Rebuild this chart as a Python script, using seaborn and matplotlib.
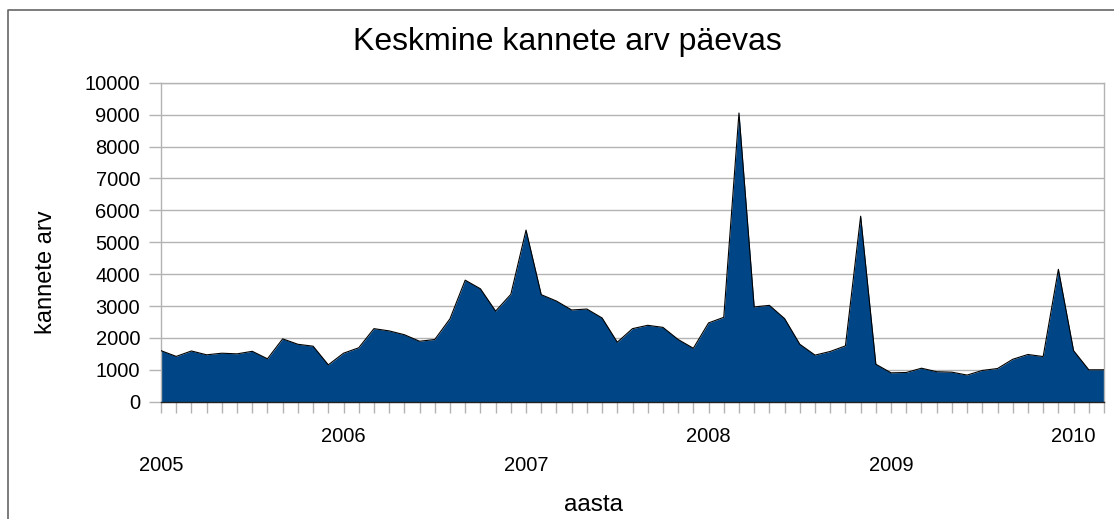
import matplotlib
matplotlib.use("Agg")
import matplotlib.pyplot as plt
import matplotlib.transforms as mtransforms
from matplotlib.lines import Line2D
import seaborn as sns
import pandas as pd

# monthly average entries per day, Jan 2005 .. Mar 2010
kanded = [1600, 1420, 1590, 1470, 1520, 1500, 1580, 1345, 1970, 1800, 1740, 1155,
          1520, 1690, 2290, 2220, 2100, 1895, 1950, 2600, 3810, 3540, 2840, 3365,
          5380, 3355, 3155, 2875, 2905, 2625, 1865, 2290, 2395, 2330, 1950, 1675,
          2470, 2645, 9050, 2970, 3020, 2605, 1800, 1460, 1575, 1750, 5815, 1175,
          905, 915, 1050, 940, 925, 835, 980, 1040, 1330, 1480, 1415, 4150,
          1600, 1000, 1000]
aastad = ["2005", "2006", "2007", "2008", "2009", "2010"]
kuud = list(range(len(kanded)))
yticks = list(range(0, 10001, 1000))

df = pd.DataFrame({"kuu": kuud, "kanded": kanded})

sns.set_style("white")
plt.rcParams["font.family"] = ["Liberation Sans", "DejaVu Sans"]
plt.rcParams["text.color"] = "black"
plt.rcParams["xtick.labelcolor"] = "black"
plt.rcParams["ytick.labelcolor"] = "black"

W, H = 1114, 519
fig = plt.figure(figsize=(W / 100, H / 100), dpi=100)
ax = fig.add_axes([161 / W, 1 - 401.7 / H, (1104 - 161) / W, (401.7 - 82.7) / H])

grey = "#b3b3b3"
ax.set_axisbelow(True)
ax.yaxis.grid(True, color=grey, linewidth=1)
ax.fill_between(df["kuu"], df["kanded"], color="#004586", linewidth=0, zorder=2)
sns.lineplot(data=df, x="kuu", y="kanded", color="black", linewidth=0.8, ax=ax, zorder=3)

ax.set_xlim(0, len(kanded) - 1)
ax.set_ylim(0, 10000)
ax.set_yticks(yticks)
ax.set_yticklabels([str(v) for v in yticks])

labels = [""] * len(kanded)
for i, a in enumerate(aastad):
    labels[i * 12] = a
ax.set_xticks(kuud)
ax.set_xticklabels(labels)
ax.set_xlabel("")
ax.set_ylabel("")

ax.tick_params(axis="y", length=8.6, width=1, color=grey, pad=6.5, labelsize=14.5,
               labelcolor="black", left=True)
ax.tick_params(axis="x", length=8, width=1, color=grey, pad=10, labelsize=14.5,
               labelcolor="black", bottom=True)

# staggered year labels: 2005, 2007, 2009 on the lower row
shift = mtransforms.ScaledTranslation(0, -20.9 / 72, fig.dpi_scale_trans)
for i, lbl in enumerate(ax.get_xticklabels()):
    if i % 24 == 0:
        lbl.set_transform(lbl.get_transform() + shift)

for side in ["left", "right", "top"]:
    ax.spines[side].set_visible(True)
    ax.spines[side].set_color(grey)
    ax.spines[side].set_linewidth(1)
ax.spines["bottom"].set_color("#222222")
ax.spines["bottom"].set_linewidth(1)

fig.text(567 / W, 1 - 50 / H, "Keskmine kannete arv päevas", ha="center", va="baseline",
         fontsize=23, color="black")
fig.text(46 / W, 1 - 272 / H, "kannete arv", rotation=90, ha="center", va="center",
         fontsize=17, color="black")
fig.text(593 / W, 1 - 505 / H, "aasta", ha="center", va="center", fontsize=17.5, color="black")

# outer frame of the original chart (left and top edges visible)
fig.add_artist(Line2D([7.5 / W, 7.5 / W, 1], [0, 1 - 10 / H, 1 - 10 / H],
                      transform=fig.transFigure, color="#666666", linewidth=1.2))

fig.savefig("out.png", dpi=100)
